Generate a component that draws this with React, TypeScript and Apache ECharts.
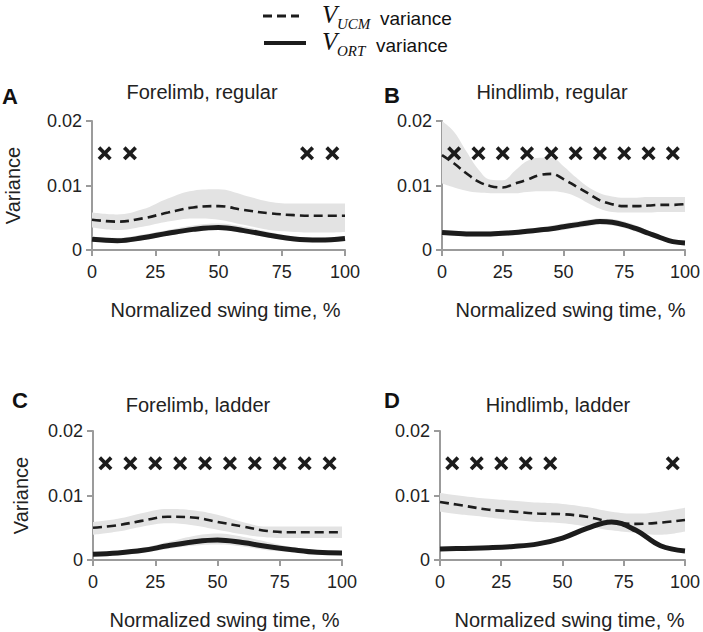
import React, { useEffect, useRef } from "react";
import * as echarts from "echarts";

// x positions (normalized swing time, %)
const xFine = [0, 5, 10, 15, 20, 25, 30, 35, 40, 45, 50, 55, 60, 65, 70, 75, 80, 85, 90, 95, 100];
const xCoarse = [0, 10, 20, 30, 40, 50, 60, 70, 80, 90, 100];

const panelTitles = ["Forelimb, regular", "Hindlimb, regular", "Forelimb, ladder", "Hindlimb, ladder"];
const panelLetters = ["A", "B", "C", "D"];
const xTickLabels = ["0", "25", "50", "75", "100"];
const yTickLabels = ["0", "0.01", "0.02"];

// Panel A
const aUcmMean = [0.0047, 0.0044, 0.0049, 0.0058, 0.0066, 0.0068, 0.0062, 0.0057, 0.0054, 0.0053, 0.0053];
const aUcmUpper = [0.0058, 0.0055, 0.0063, 0.008, 0.0092, 0.0094, 0.0085, 0.0075, 0.0072, 0.0072, 0.0072];
const aUcmLower = [0.0035, 0.0031, 0.0036, 0.0044, 0.0049, 0.0047, 0.0039, 0.0031, 0.0028, 0.0027, 0.0028];
const aOrtMean = [0.00165, 0.00145, 0.0019, 0.0026, 0.0032, 0.0035, 0.003, 0.0023, 0.0017, 0.00155, 0.0018];
const aOrtUpper = [0.0021, 0.0019, 0.0024, 0.0031, 0.0038, 0.0041, 0.0036, 0.0028, 0.0021, 0.0019, 0.0022];
const aOrtLower = [0.0013, 0.0011, 0.0015, 0.0022, 0.0028, 0.0031, 0.0026, 0.0019, 0.0014, 0.0012, 0.0015];
const aMarks = [5, 15, 85, 95];

// Panel B
const bUcmMean = [0.0147, 0.0134, 0.0119, 0.0106, 0.0099, 0.0097, 0.0103, 0.0109, 0.0116, 0.0118, 0.011, 0.0099, 0.0088, 0.0077, 0.0071, 0.0068, 0.0068, 0.0069, 0.007, 0.007, 0.0071];
const bUcmUpper = [0.02, 0.0183, 0.0153, 0.0125, 0.0109, 0.0108, 0.0123, 0.0138, 0.0143, 0.0143, 0.013, 0.0113, 0.0098, 0.0088, 0.0083, 0.0081, 0.0081, 0.0082, 0.0082, 0.0082, 0.0082];
const bUcmLower = [0.0103, 0.0097, 0.0092, 0.0089, 0.0088, 0.0088, 0.0088, 0.009, 0.0091, 0.0091, 0.0089, 0.0083, 0.0073, 0.0064, 0.0059, 0.0058, 0.0058, 0.0058, 0.0059, 0.0059, 0.0059];
const bOrtMean = [0.0027, 0.0026, 0.0025, 0.0025, 0.0025, 0.0026, 0.0027, 0.0029, 0.0031, 0.0033, 0.0036, 0.0039, 0.0042, 0.0044, 0.0043, 0.0039, 0.0033, 0.0026, 0.0019, 0.0013, 0.0011];
const bOrtUpper = [0.0031, 0.003, 0.0029, 0.0029, 0.0029, 0.003, 0.0031, 0.0033, 0.0035, 0.0038, 0.0041, 0.0044, 0.0047, 0.0049, 0.0048, 0.0044, 0.0038, 0.003, 0.0023, 0.0016, 0.0014];
const bOrtLower = [0.0023, 0.0022, 0.0021, 0.0021, 0.0021, 0.0022, 0.0023, 0.0025, 0.0027, 0.0029, 0.0031, 0.0034, 0.0037, 0.0039, 0.0038, 0.0034, 0.0028, 0.0022, 0.0015, 0.001, 0.0008];
const bMarks = [5, 15, 25, 35, 45, 55, 65, 75, 85, 95];

// Panel C
const cUcmMean = [0.005, 0.0054, 0.0061, 0.0067, 0.0066, 0.0059, 0.0052, 0.0045, 0.0043, 0.0043, 0.0043];
const cUcmUpper = [0.0059, 0.0064, 0.0073, 0.0079, 0.0077, 0.007, 0.0059, 0.0052, 0.0052, 0.0052, 0.0052];
const cUcmLower = [0.0039, 0.0044, 0.0052, 0.0057, 0.0054, 0.0047, 0.004, 0.0035, 0.0034, 0.0034, 0.0034];
const cOrtMean = [0.0009, 0.0011, 0.0015, 0.0022, 0.0028, 0.0031, 0.0027, 0.0021, 0.0016, 0.0012, 0.0011];
const cOrtUpper = [0.0012, 0.0014, 0.0019, 0.0028, 0.0037, 0.0041, 0.0036, 0.0028, 0.002, 0.0015, 0.0014];
const cOrtLower = [0.0006, 0.0008, 0.0011, 0.0017, 0.0022, 0.0024, 0.0021, 0.0015, 0.0012, 0.0009, 0.0008];
const cMarks = [5, 15, 25, 35, 45, 55, 65, 75, 85, 95];

// Panel D
const dUcmMean = [0.009, 0.0084, 0.0078, 0.0075, 0.0072, 0.0071, 0.0067, 0.0059, 0.0056, 0.0058, 0.0062];
const dUcmUpper = [0.0104, 0.0099, 0.0095, 0.0092, 0.0089, 0.0087, 0.0082, 0.0075, 0.0072, 0.0075, 0.0081];
const dUcmLower = [0.0075, 0.007, 0.0066, 0.0062, 0.0059, 0.0057, 0.0052, 0.0046, 0.0042, 0.0039, 0.0044];
const dOrtMean = [0.0017, 0.0018, 0.0019, 0.0021, 0.0025, 0.0034, 0.0049, 0.0059, 0.0046, 0.0022, 0.0014];
const dOrtUpper = [0.002, 0.0021, 0.0022, 0.0024, 0.0028, 0.0037, 0.0052, 0.0062, 0.005, 0.0026, 0.0017];
const dOrtLower = [0.0014, 0.0015, 0.0016, 0.0018, 0.0022, 0.0031, 0.0046, 0.0056, 0.0042, 0.0019, 0.0011];
const dMarks = [5, 15, 25, 35, 45, 95];

const markLevel = 0.015;

const panels = [
  { x: xCoarse, ucm: [aUcmMean, aUcmLower, aUcmUpper], ort: [aOrtMean, aOrtLower, aOrtUpper], marks: aMarks },
  { x: xFine, ucm: [bUcmMean, bUcmLower, bUcmUpper], ort: [bOrtMean, bOrtLower, bOrtUpper], marks: bMarks },
  { x: xCoarse, ucm: [cUcmMean, cUcmLower, cUcmUpper], ort: [cOrtMean, cOrtLower, cOrtUpper], marks: cMarks },
  { x: xCoarse, ucm: [dUcmMean, dUcmLower, dUcmUpper], ort: [dOrtMean, dOrtLower, dOrtUpper], marks: dMarks },
];

const FONT = "'Liberation Sans', Arial, Helvetica, sans-serif";
const SERIF = "'Liberation Serif', 'Times New Roman', serif";
const INK = "#1c1c1c";
const BAND = "#e3e3e3";
const AXIS = "#9b9b9b";
const CROSS = "path://M3,0 L8,5 L13,0 L16,3 L11,8 L16,13 L13,16 L8,11 L3,16 L0,13 L5,8 L0,3 Z";

// layout
const grids = [
  { left: 92, top: 121, width: 253, height: 129 },
  { left: 442, top: 121, width: 249, height: 129 },
  { left: 93, top: 431, width: 249, height: 129 },
  { left: 440, top: 431, width: 249, height: 129 },
];
const titlePos = [
  { x: 202, y: 82 },
  { x: 552, y: 82 },
  { x: 198, y: 395 },
  { x: 558, y: 395 },
];
const letterPos = [
  { x: 2, y: 96 },
  { x: 384, y: 95 },
  { x: 12, y: 400 },
  { x: 384, y: 400 },
];

export default function App() {
  const ref = useRef<HTMLDivElement>(null);
  useEffect(() => {
    if (!ref.current) return;
    const chart = echarts.init(ref.current, undefined, { renderer: "svg" });
    const series: any[] = [];
    panels.forEach((p, i) => {
      // stacked band series keep the value (y) in column 0 so that it, not x, gets stacked
      const yx = (arr: number[]) => p.x.map((xv, k) => [arr[k], xv]);
      const diff = (hi: number[], lo: number[]) => p.x.map((xv, k) => [hi[k] - lo[k], xv]);
      const pair = (arr: number[]) => p.x.map((xv, k) => [xv, arr[k]]);
      const bandBase = {
        type: "line",
        xAxisIndex: i,
        yAxisIndex: i,
        smooth: 0.4,
        symbol: "none",
        silent: true,
        encode: { x: 1, y: 0 },
        lineStyle: { opacity: 0, width: 0 },
      };
      series.push({ ...bandBase, name: `ucmLo${i}`, stack: `ucm${i}`, data: yx(p.ucm[1]) });
      series.push({
        ...bandBase,
        name: `ucmBand${i}`,
        stack: `ucm${i}`,
        data: diff(p.ucm[2], p.ucm[1]),
        areaStyle: { color: BAND, opacity: 1 },
      });
      series.push({ ...bandBase, name: `ortLo${i}`, stack: `ort${i}`, data: yx(p.ort[1]) });
      series.push({
        ...bandBase,
        name: `ortBand${i}`,
        stack: `ort${i}`,
        data: diff(p.ort[2], p.ort[1]),
        areaStyle: { color: BAND, opacity: 1 },
      });
      series.push({
        type: "line",
        name: `V_UCM ${i}`,
        xAxisIndex: i,
        yAxisIndex: i,
        smooth: 0.4,
        symbol: "none",
        data: pair(p.ucm[0]),
        lineStyle: { color: INK, width: 2.6, type: [9, 5] },
        z: 3,
      });
      series.push({
        type: "line",
        name: `V_ORT ${i}`,
        xAxisIndex: i,
        yAxisIndex: i,
        smooth: 0.4,
        symbol: "none",
        data: pair(p.ort[0]),
        lineStyle: { color: INK, width: 5 },
        z: 3,
      });
      series.push({
        type: "scatter",
        name: `sig${i}`,
        xAxisIndex: i,
        yAxisIndex: i,
        symbol: CROSS,
        symbolSize: 14,
        itemStyle: { color: INK, opacity: 1 },
        data: p.marks.map((m) => [m, markLevel]),
        z: 4,
      });
    });

    const xAxes = grids.map((_, i) => ({
      type: "value",
      gridIndex: i,
      min: 0,
      max: 100,
      interval: 25,
      name: "Normalized swing time, %",
      nameLocation: "middle",
      nameGap: 50,
      nameTextStyle: { fontSize: 20, color: "#222", fontFamily: FONT, padding: [0, 0, 0, 14] },
      axisLine: { show: true, onZero: false, lineStyle: { color: AXIS, width: 2 } },
      axisTick: { show: true, length: 6, lineStyle: { color: AXIS, width: 2 } },
      axisLabel: {
        fontSize: 18,
        color: "#222",
        fontFamily: FONT,
        margin: 13,
        formatter: (v: number) => xTickLabels[Math.round(v / 25)] ?? String(v),
      },
      splitLine: { show: false },
    }));
    const yAxes = grids.map((_, i) => ({
      type: "value",
      gridIndex: i,
      min: 0,
      max: 0.02,
      interval: 0.01,
      name: i % 2 === 0 ? "Variance" : "",
      nameLocation: "middle",
      nameGap: i === 0 ? 69 : 62,
      nameTextStyle: { fontSize: 20, color: "#222", fontFamily: FONT },
      axisLine: { show: true, lineStyle: { color: AXIS, width: 2 } },
      axisTick: { show: true, length: 6, lineStyle: { color: AXIS, width: 2 } },
      axisLabel: {
        fontSize: 18,
        color: "#222",
        fontFamily: FONT,
        margin: 10,
        formatter: (v: number) => yTickLabels[Math.round(v / 0.01)] ?? String(v),
      },
      splitLine: { show: false },
    }));

    const graphic: any[] = [];
    letterPos.forEach((lp, i) => {
      graphic.push({
        type: "text",
        x: lp.x,
        y: lp.y,
        style: {
          text: panelLetters[i],
          font: `bold 22px ${FONT}`,
          fill: "#111",
          verticalAlign: "middle",
        },
      });
    });
    // legend
    graphic.push({
      type: "line",
      shape: { x1: 263, y1: 16, x2: 299, y2: 16 },
      style: { stroke: INK, lineWidth: 3, lineDash: [9, 5] },
    });
    graphic.push({
      type: "line",
      shape: { x1: 264, y1: 43, x2: 306, y2: 43 },
      style: { stroke: INK, lineWidth: 4 },
    });
    const legendRows = [
      { sub: "UCM", y: 27, tx: 380 },
      { sub: "ORT", y: 54, tx: 376 },
    ];
    legendRows.forEach((r) => {
      graphic.push({
        type: "text",
        x: 322,
        y: r.y,
        style: { text: "V", font: `italic 25px ${SERIF}`, fill: "#111", verticalAlign: "bottom" },
      });
      graphic.push({
        type: "text",
        x: 337,
        y: r.y + 4,
        style: { text: r.sub, font: `italic 15px ${SERIF}`, fill: "#111", verticalAlign: "bottom" },
      });
      graphic.push({
        type: "text",
        x: r.tx,
        y: r.y + 1,
        style: { text: "variance", font: `19px ${FONT}`, fill: "#111", verticalAlign: "bottom" },
      });
    });

    chart.setOption({
      animation: false,
      backgroundColor: "#ffffff",
      title: panelTitles.map((t, i) => ({
        text: t,
        left: titlePos[i].x,
        top: titlePos[i].y,
        textAlign: "center",
        padding: 0,
        textStyle: { fontSize: 20, fontWeight: "normal", color: "#222", fontFamily: FONT },
      })),
      grid: grids.map((g) => ({ ...g, containLabel: false })),
      xAxis: xAxes,
      yAxis: yAxes,
      series,
      graphic,
    });
    return () => chart.dispose();
  }, []);
  return (
    <div
      ref={ref}
      style={{ position: "absolute", left: 0, top: 0, width: 703, height: 632, background: "#fff" }}
    />
  );
}
